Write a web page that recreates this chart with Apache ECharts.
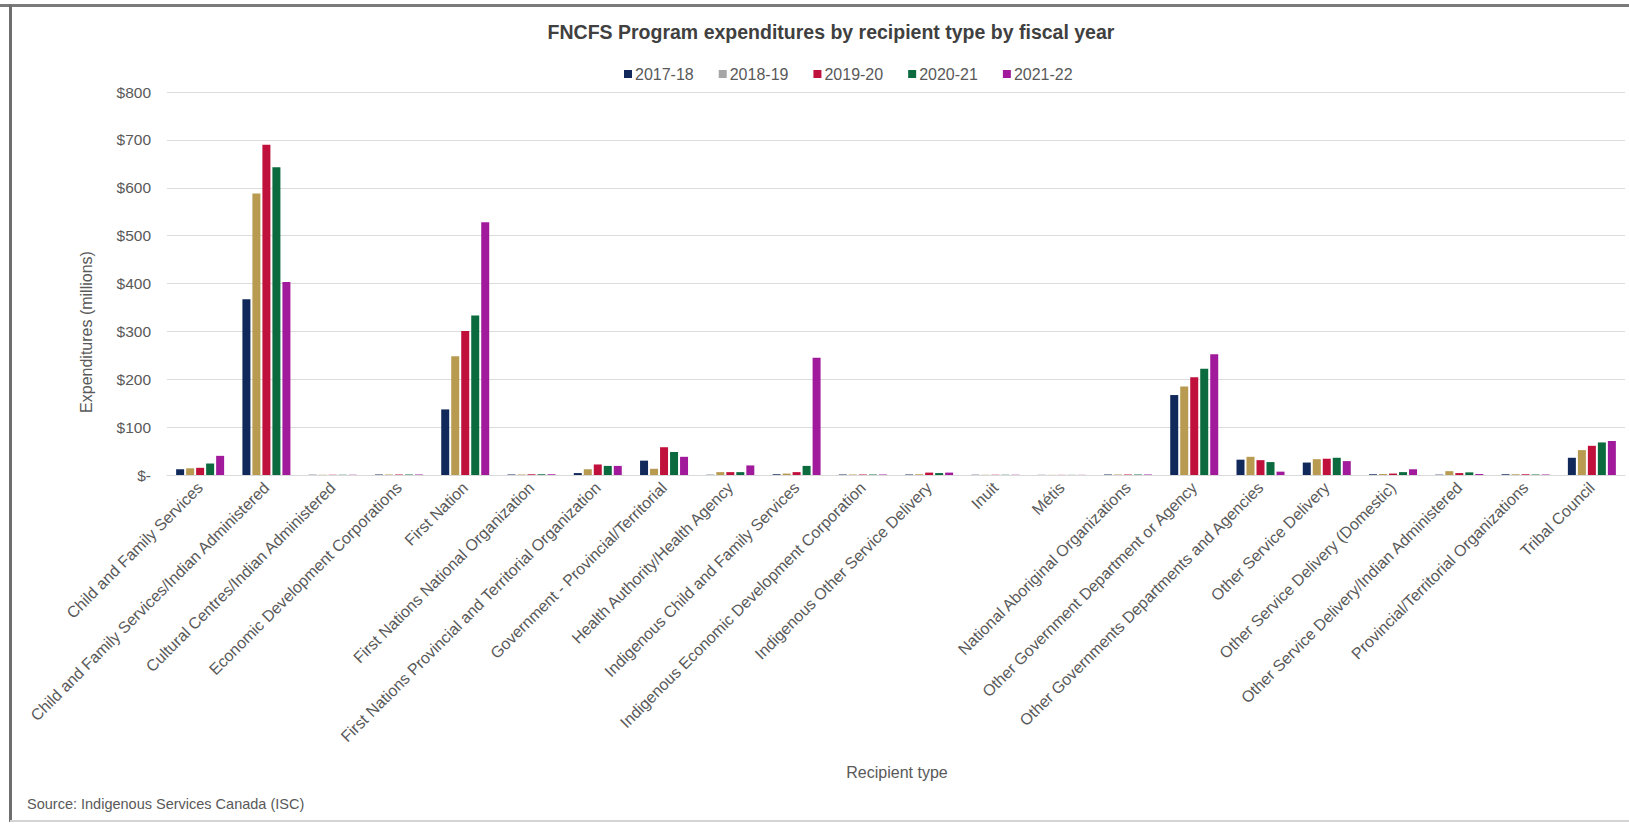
<!DOCTYPE html>
<html>
<head>
<meta charset="utf-8">
<script src="https://cdn.jsdelivr.net/npm/echarts@6/dist/echarts.min.js"></script>
<style>
  html, body { margin: 0; padding: 0; background: #ffffff; }
  #wrap { position: relative; width: 1629px; height: 824px; overflow: hidden; background: #fff; }
  #chart { position: absolute; left: 0; top: 0; width: 1629px; height: 824px; }
  .bt { position: absolute; left: 0; top: 4px; width: 1629px; height: 3px; background: #7a7a7a; }
  .bl { position: absolute; left: 9px; top: 5px; width: 3px; height: 817px; background: #6e6e6e; }
  .bb { position: absolute; left: 10px; top: 820px; width: 1619px; height: 2px; background: #d4d4d4; }
</style>
</head>
<body>
<div id="wrap">
  <div id="chart"></div>
  <div class="bt"></div>
  <div class="bl"></div>
  <div class="bb"></div>
</div>
<script>
// ---- Data ----
const categories = [
  'Child and Family Services',
  'Child and Family Services/Indian Administered',
  'Cultural Centres/Indian Administered',
  'Economic Development Corporations',
  'First Nation',
  'First Nations National Organization',
  'First Nations Provincial and Territorial Organization',
  'Government - Provincial/Territorial',
  'Health Authority/Health Agency',
  'Indigenous Child and Family Services',
  'Indigenous Economic Development Corporation',
  'Indigenous Other Service Delivery',
  'Inuit',
  'Métis',
  'National Aboriginal Organizations',
  'Other Government Department or Agency',
  'Other Governments Departments and Agencies',
  'Other Service Delivery',
  'Other Service Delivery (Domestic)',
  'Other Service Delivery/Indian Administered',
  'Provincial/Territorial Organizations',
  'Tribal Council'
];
const seriesNames = ['2017-18', '2018-19', '2019-20', '2020-21', '2021-22'];
const fy201718 = [12, 367, 0.5, 1, 137, 1, 4, 30, 0.5, 1.5, 1, 1, 0.5, 0.3, 1, 167, 32, 26, 1.5, 0.7, 1.5, 36];
const fy201819 = [14, 588, 0.5, 1, 248, 1, 12, 13, 6, 3, 1, 1.5, 0.5, 0.3, 1, 185, 38, 33, 2, 8, 1.5, 52];
const fy201920 = [15, 690, 0.5, 1, 301, 1.5, 22, 58, 6, 6, 1, 5, 0.5, 0.3, 1, 204, 31, 34, 3, 4, 1.5, 61];
const fy202021 = [24, 643, 0.5, 1, 333, 1.5, 19, 48, 6, 19, 1, 4, 0.5, 0.3, 1, 222, 27, 36, 6, 5.5, 1, 68];
const fy202122 = [40, 403, 0.5, 1, 528, 1.5, 19, 38, 20, 245, 1, 5, 0.5, 0.3, 1, 252, 7, 29, 12, 2, 1, 71];
const seriesValues = [fy201718, fy201819, fy201920, fy202021, fy202122];
const yTicks = [0, 100, 200, 300, 400, 500, 600, 700, 800];

const titleText = 'FNCFS Program expenditures by recipient type by fiscal year';
const yAxisTitle = 'Expenditures (millions)';
const xAxisTitle = 'Recipient type';
const sourceText = 'Source: Indigenous Services Canada (ISC)';

// ---- Styles ----
const colors = ['#10295a', '#b89a50', '#c0103c', '#0b6b3e', '#a21a9c'];
const legendIconColors = ['#10295a', '#a6a6a6', '#c0103c', '#0b6b3e', '#a21a9c'];
const textColor = '#595959';
const fontFamily = '"Liberation Sans", Arial, sans-serif';

const chart = echarts.init(document.getElementById('chart'), null, { renderer: 'svg' });

const option = {
  animation: false,
  backgroundColor: 'transparent',
  textStyle: { fontFamily: fontFamily },
  title: {
    text: titleText,
    left: 826,
    textAlign: 'center',
    top: 17,
    textStyle: { fontSize: 19.5, fontWeight: 'bold', color: '#404040', fontFamily: fontFamily }
  },
  legend: {
    left: 619,
    top: 61,
    icon: 'rect',
    itemWidth: 8,
    itemHeight: 8,
    itemGap: 25,
    textStyle: { fontSize: 16, color: textColor, fontFamily: fontFamily, padding: [0, 0, 0, -2] },
    data: seriesNames.map((n, i) => ({ name: n, itemStyle: { color: legendIconColors[i] } }))
  },
  grid: { left: 167, right: 4, top: 92, bottom: 349, containLabel: false },
  xAxis: {
    type: 'category',
    data: categories,
    axisLine: { show: true, lineStyle: { color: '#d9d9d9', width: 1 } },
    axisTick: { show: false },
    axisLabel: {
      interval: 0,
      rotate: 45,
      margin: 10,
      fontSize: 16,
      color: textColor,
      fontFamily: fontFamily
    },
    splitLine: { show: false }
  },
  yAxis: {
    type: 'value',
    min: yTicks[0],
    max: yTicks[yTicks.length - 1],
    interval: 100,
    axisLine: { show: false },
    axisTick: { show: false },
    axisLabel: {
      margin: 16,
      fontSize: 15.5,
      color: textColor,
      fontFamily: fontFamily,
      formatter: v => (v === 0 ? '$-' : '$' + v)
    },
    splitLine: { show: true, lineStyle: { color: '#dcdcdc', width: 1 } }
  },
  graphic: [
    {
      type: 'text',
      x: 86, y: 332,
      rotation: Math.PI / 2,
      style: {
        text: yAxisTitle, fill: textColor, fontSize: 16, fontFamily: fontFamily,
        align: 'center', verticalAlign: 'middle'
      }
    },
    {
      type: 'text',
      x: 897, y: 772,
      style: {
        text: xAxisTitle, fill: textColor, fontSize: 16, fontFamily: fontFamily,
        align: 'center', verticalAlign: 'middle'
      }
    },
    {
      type: 'text',
      x: 27, y: 804,
      style: {
        text: sourceText, fill: textColor, fontSize: 14.5, fontFamily: fontFamily,
        align: 'left', verticalAlign: 'middle'
      }
    }
  ],
  series: seriesNames.map((name, i) => ({
    name: name,
    type: 'bar',
    data: seriesValues[i],
    barWidth: 8,
    barGap: '25%',
    itemStyle: { color: colors[i] }
  }))
};

chart.setOption(option);
</script>
</body>
</html>
